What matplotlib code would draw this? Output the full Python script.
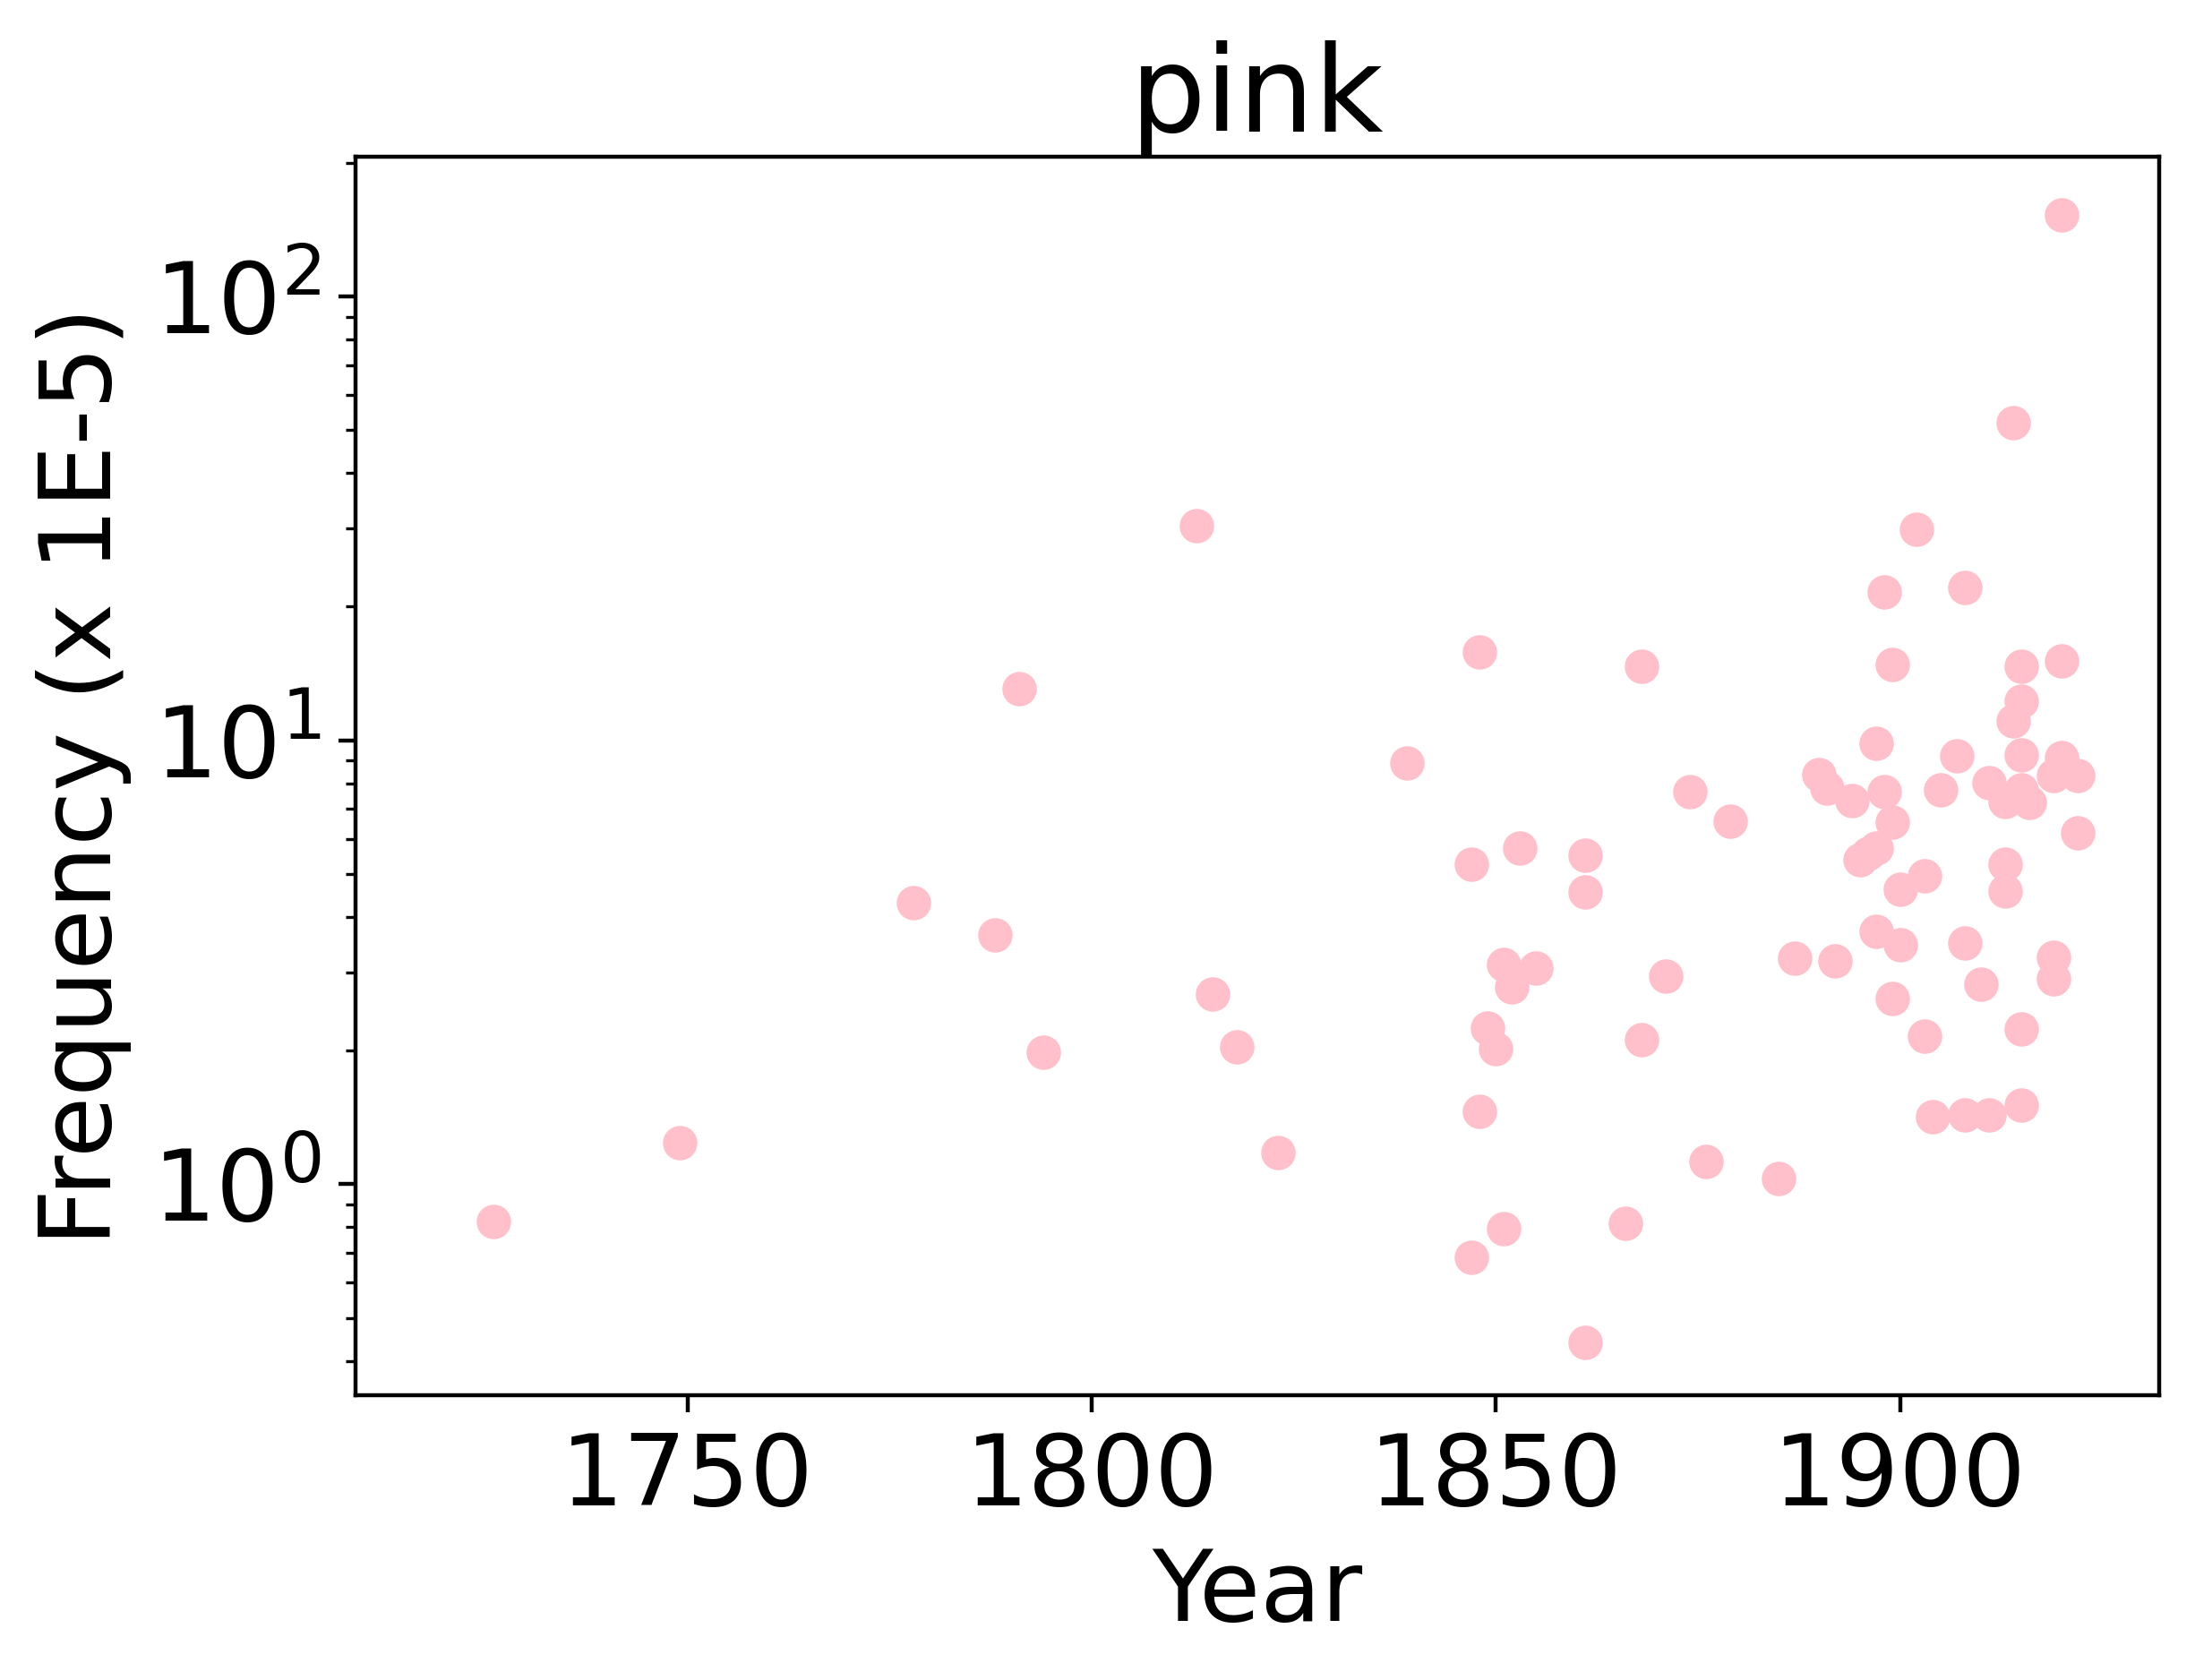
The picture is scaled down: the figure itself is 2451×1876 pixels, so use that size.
import matplotlib
matplotlib.use("Agg")
import matplotlib.pyplot as plt

years = [1726, 1749, 1778, 1788, 1791, 1794, 1813, 1815, 1818, 1823,
         1839, 1847, 1847, 1848, 1848, 1849, 1850, 1851, 1852, 1851,
         1853, 1855, 1861, 1861, 1861, 1866, 1868, 1868, 1871, 1874,
         1876, 1879, 1885, 1887, 1890, 1891, 1892, 1894, 1895, 1896,
         1897, 1897, 1897, 1898, 1898, 1899, 1899, 1899, 1900, 1900,
         1902, 1903, 1903, 1904, 1905, 1907, 1908, 1908, 1908, 1910,
         1911, 1911, 1913, 1913, 1913, 1914, 1914, 1915, 1915, 1915,
         1915, 1915, 1915, 1916, 1919, 1919, 1919, 1920, 1920, 1920,
         1922, 1922]
freqs = [0.826, 1.239, 4.31, 3.65, 13.07, 1.98, 30.4, 2.68, 2.035, 1.179,
         8.90, 5.26, 0.683, 15.8, 1.456, 2.25, 2.02, 3.13, 2.78, 0.793,
         5.71, 3.07, 5.51, 4.56, 0.44, 0.818, 14.7, 2.12, 2.94, 7.67,
         1.123, 6.56, 1.032, 3.23, 8.35, 7.81, 3.19, 7.32, 5.39, 5.56,
         5.71, 9.86, 3.71, 21.6, 7.67, 14.8, 6.54, 2.62, 4.62, 3.47,
         29.9, 4.96, 2.16, 1.42, 7.74, 9.23, 22.1, 3.50, 1.43, 2.82,
         8.01, 1.434, 7.29, 5.26, 4.58, 52.0, 11.06, 14.65, 12.23, 9.28,
         7.73, 2.24, 1.511, 7.24, 3.25, 2.90, 8.34, 152.5, 15.07, 9.16,
         8.34, 6.19]

title = "pink"
x_label = "Year"
y_label = "Frequency (x 1E-5)"

plt.rcParams["font.size"] = 20
fig = plt.figure(figsize=(2451 / 400, 1876 / 400), dpi=400)
ax = fig.add_axes([397.3 / 2451, 1 - 1558.3 / 1876,
                   (2411 - 397.3) / 2451, (1558.3 - 175) / 1876])
ax.scatter(years, freqs, s=48, color="pink", linewidths=0, zorder=2)
ax.set_yscale("log")
ax.set_xlim(1708.97, 1932.05)
ax.set_ylim(0.3342, 206.4)
ax.set_xticks([1750, 1800, 1850, 1900])

ax.set_title(title, fontsize=24, pad=0.6)
ax.set_xlabel(x_label)
ax.set_ylabel(y_label)

fig.savefig("out.png", dpi=400)
